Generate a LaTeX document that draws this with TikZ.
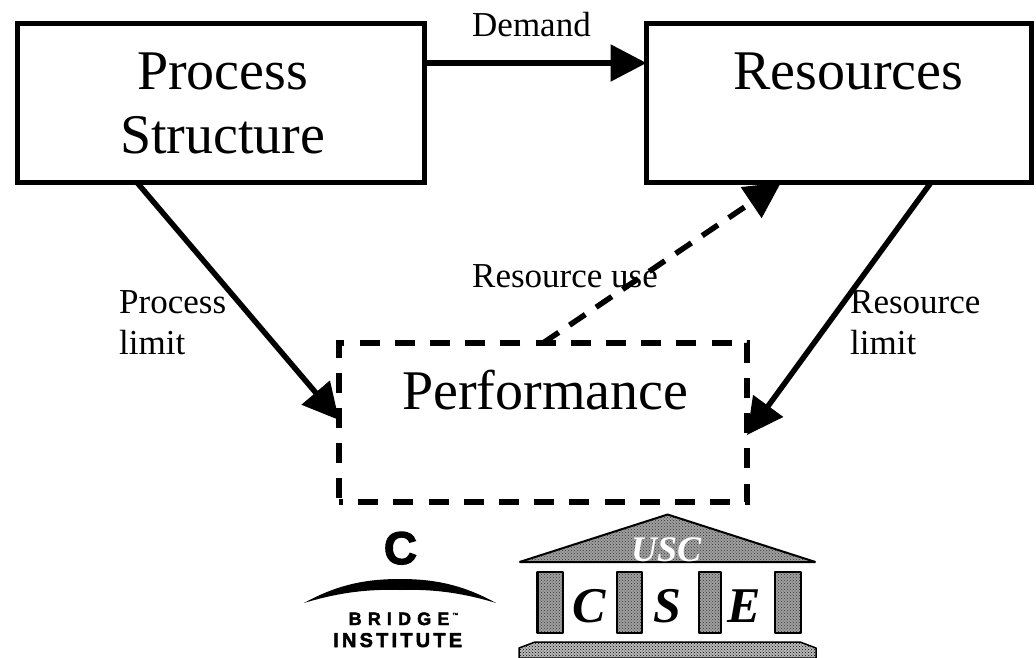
\documentclass[tikz,border=0pt]{standalone}
\usepackage{fontspec}
\setmainfont{Liberation Serif}
\newfontfamily\logosans[LetterSpace=34,FakeBold=2.5]{Liberation Sans}
\newfontfamily\logosanswide[LetterSpace=16,FakeBold=2.5]{Liberation Sans}
\newfontfamily\logoc[FakeBold=2.5]{Liberation Sans}
\usetikzlibrary{arrows.meta,patterns}
\newcommand{\fs}[1]{\fontsize{#1pt}{#1pt}\selectfont}
\tikzset{
  box/.style={draw,line width=5.5pt,rectangle,outer sep=0pt,inner sep=0pt},
  dashbox/.style={box,dash pattern=on 20pt off 15.2pt,dash phase=16pt},
  conn/.style={line width=5.5pt,-{Triangle[length=36pt,width=36pt]}},
  dconn/.style={conn,dash pattern=on 19pt off 13pt},
  bigtext/.style={anchor=base west,inner sep=0pt,font=\fs{56}},
  smalltext/.style={anchor=base west,inner sep=0pt,font=\fs{35}},
  halftone/.style={draw,line width=2.5pt,line join=bevel,preaction={fill=gray!75},pattern=crosshatch dots,pattern color=black!80},
  halftonedark/.style={draw,line width=1.5pt,line join=bevel,preaction={fill=gray!55},pattern=crosshatch dots,pattern color=black},
  logoserif/.style={anchor=base west,inner sep=0pt,font=\bfseries\itshape\fs{50}},
  logotext/.style={anchor=base west,inner sep=0pt}
}
\begin{document}
\begin{tikzpicture}[x=1pt,y=-1pt]
\useasboundingbox (0,0) rectangle (1036,657);
% boxes
\node[box,minimum width=407pt,minimum height=159pt] (ps) at (221,103) {};
\node[box,minimum width=385pt,minimum height=159pt] (res) at (839,103) {};
\node[dashbox,minimum width=408pt,minimum height=159pt] (perf) at (543,422.5) {};
% box labels
\node[bigtext] (t1) at (137,89) {Process};
\node[bigtext] (t2) at (120,153) {Structure};
\node[bigtext] (t3) at (733,89) {Resources};
\node[bigtext] (t4) at (402,409) {Performance};
% connector labels
\node[smalltext] (l1) at (472,36) {Demand};
\node[smalltext] (l2) at (119,313) {Process};
\node[smalltext] (l3) at (119,354) {limit};
\node[smalltext] (l4) at (472,287) {Resource use};
\node[smalltext] (l5) at (850,313) {Resource};
\node[smalltext] (l6) at (850,354) {limit};
% connectors
\draw[conn] ([yshift=40pt]ps.east) -- ([yshift=40pt]res.west);
\draw[conn] ([xshift=-84pt]ps.south) -- ([yshift=2.5pt]perf.west);
\draw[conn] ([xshift=92pt]res.south) -- ([yshift=-12.5pt]perf.east);
\draw[dconn] (perf.north) -- ([xshift=-58pt]res.south);
% USC CSE logo
\path[halftone,line width=2pt] (667.6,514.5) -- (519.5,562) -- (815.5,562) -- cycle;
\node[anchor=base west,inner sep=0pt,text=white,font=\itshape\bfseries\fs{36}] (usc) at (631,561) {USC};
\path[halftone] (537.5,572) rectangle (563,633);
\path[halftone] (617,572) rectangle (642,633);
\path[halftone] (699,572) rectangle (721,633);
\path[halftone] (775,572) rectangle (801,633);
\node[logoserif] (cc) at (572,622) {C};
\node[logoserif] (cs) at (653,622) {S};
\node[logoserif] (ce) at (727,622) {E};
\path[halftonedark] (535,642) -- (800,642) -- (816,648) -- (816,658) -- (519,658) -- (519,648) -- cycle;
% Bridge logo
\node[anchor=base,inner sep=0pt,font=\logoc\bfseries\fs{46}] (bc) at (400.5,564) {C};
\fill (304,603) .. controls (340,583) and (370,579) .. (400,579)
  .. controls (430,579) and (460,583) .. (496,603)
  .. controls (460,592) and (430,589) .. (400,590)
  .. controls (370,589) and (340,592) .. (304,603) -- cycle;
\node[logotext,font=\logosans\bfseries\fs{18}] (bb) at (348.5,625) {BRIDGE};
\node[logotext,font=\logoc\fs{6}] (tm) at (452,617) {™};
\node[logotext,font=\logosanswide\bfseries\fs{20}] (bi) at (333,647) {INSTITUTE};
\end{tikzpicture}
\end{document}
